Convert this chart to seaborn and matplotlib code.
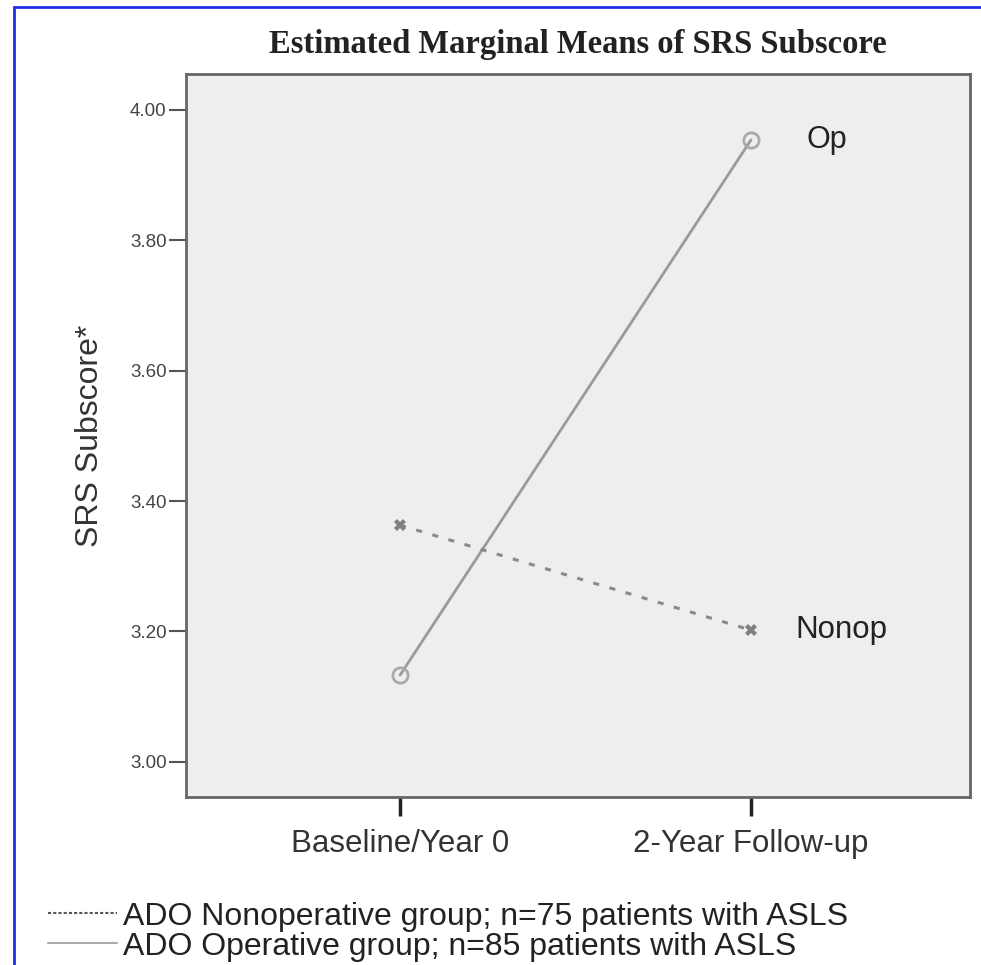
import seaborn as sns
import matplotlib.pyplot as plt
import pandas as pd
from matplotlib.lines import Line2D

# values
times = ['Baseline/Year 0', '2-Year Follow-up']
op_means = [3.133, 3.954]
nonop_means = [3.363, 3.202]
yticks = [3.00, 3.20, 3.40, 3.60, 3.80, 4.00]
legend_labels = ['ADO Nonoperative group; n=75 patients with ASLS',
                 'ADO Operative group; n=85 patients with ASLS']

df = pd.DataFrame({
    'time': times * 2,
    'score': op_means + nonop_means,
    'group': ['Op'] * 2 + ['Nonop'] * 2,
})

sns.set_style('white')
plt.rcParams['font.family'] = ['Liberation Sans', 'DejaVu Sans']

fig = plt.figure(figsize=(9.81, 9.65), dpi=100)
ax = fig.add_axes([0.1896, 0.1741, 0.7992, 0.7492])
ax.set_facecolor('#eeeeee')

op = df[df.group == 'Op']
nonop = df[df.group == 'Nonop']
sns.lineplot(data=op, x='time', y='score', ax=ax, color='#9a9a9a', lw=2,
             marker='o', markersize=11, markerfacecolor='none',
             markeredgecolor='#aaaaaa', markeredgewidth=2)
sns.lineplot(data=nonop, x='time', y='score', ax=ax, color='#8a8a8a', lw=2.2,
             linestyle=(0, (2, 3.5)), marker='X', markersize=8,
             markeredgewidth=0, markerfacecolor='#808080')

ax.set_xlim(-0.61, 1.624)
ax.set_ylim(2.946, 4.055)
ax.set_yticks(yticks)
ax.set_yticklabels([f'{v:.2f}' for v in yticks], fontsize=13.5, color='#444444')
ax.set_xticks([0, 1])
ax.set_xticklabels(times, fontsize=22.5, color='#333333')
ax.tick_params(axis='x', bottom=True, direction='out', length=14, width=2.5,
               color='#222222', pad=9)
ax.tick_params(axis='y', left=True, direction='out', length=12, width=1.5,
               color='#555555', pad=2)
ax.set_xlabel('')
ax.set_ylabel('SRS Subscore*', fontsize=23, color='#333333')
ax.yaxis.set_label_coords(-0.103, 0.50)

for s in ax.spines.values():
    s.set_visible(True)
    s.set_color('#666666')
    s.set_linewidth(2)

ax.annotate('Op', xy=(1, op_means[1]), xytext=(55, 0), textcoords='offset pixels',
            fontsize=22, color='#222222', va='center', ha='left')
ax.annotate('Nonop', xy=(1, nonop_means[1]), xytext=(44, 0), textcoords='offset pixels',
            fontsize=22.5, color='#222222', va='center', ha='left')

fig.text(0.589, 1 - 44 / 965, 'Estimated Marginal Means of SRS Subscore',
         family='Liberation Serif', fontweight='bold', fontsize=23.5,
         ha='center', va='center', color='#222222')

handles = [Line2D([], [], color='#555555', lw=1.5, linestyle=(0, (1.5, 1))),
           Line2D([], [], color='#aaaaaa', lw=1.5)]
fig.legend(handles, legend_labels, loc='upper left', bbox_to_anchor=(0.036, 0.079),
           frameon=False, fontsize=23, handlelength=2.15, handletextpad=0.2,
           labelspacing=0.0, borderaxespad=0, labelcolor='#222222')

# blue frame on top and left of the original image
fig.add_artist(Line2D([0.0143, 1], [0.9927, 0.9927], color='#2030e0', lw=2,
                      transform=fig.transFigure))
fig.add_artist(Line2D([0.0143, 0.0143], [0, 0.9927], color='#2030e0', lw=2,
                      transform=fig.transFigure))

fig.savefig('out.png', dpi=100)
